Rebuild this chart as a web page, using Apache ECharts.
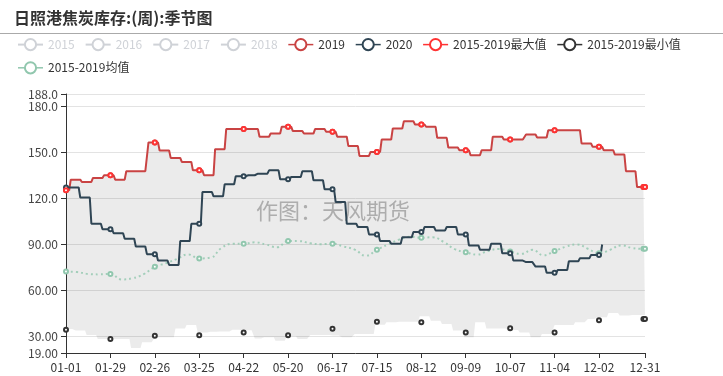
<!DOCTYPE html>
<html>
<head>
<meta charset="utf-8">
<script src="https://cdn.jsdelivr.net/npm/echarts@6/dist/echarts.min.js"></script>
<style>
  html, body { margin: 0; padding: 0; background: #fff; }
  #chart { width: 723px; height: 376px; }
</style>
</head>
<body>
<div id="chart"></div>
<script>
// 横轴：按 2020 年（闰年）逐日
const days = [];
for (let t = Date.UTC(2020, 0, 1); t <= Date.UTC(2020, 11, 31); t += 86400000) {
  const d = new Date(t);
  days.push(String(d.getUTCMonth() + 1).padStart(2, '0') + '-' + String(d.getUTCDate()).padStart(2, '0'));
}

// 周度数据：第 0 项是第一次更新之前的几天，之后每 7 天一个值
const off2019 = 3;
const w2019 = [125.2, 132.1, 130.6, 133.2, 135.0, 132.1, 137.6, 137.6, 156.4, 151.1,
  146.3, 143.7, 138.2, 135.0, 152.0, 165.1, 165.1, 165.1, 160.1, 162.2,
  166.6, 163.8, 162.2, 165.1, 163.3, 160.1, 154.0, 147.6, 150.2, 158.3,
  165.5, 170.3, 168.1, 166.6, 159.4, 153.1, 151.3, 148.1, 151.3, 160.1,
  158.3, 158.3, 161.6, 159.6, 164.4, 164.4, 164.4, 155.7, 153.5, 151.3,
  148.5, 137.6, 127.3];

const off2020 = 2;
const last2020 = 338; // 2020 数据到 12-04
const w2020 = [127.0, 127.0, 120.4, 103.3, 99.7, 97.2, 93.5, 88.5, 83.5, 79.3,
  76.5, 92.0, 103.3, 124.0, 121.2, 129.1, 134.3, 135.0, 136.0, 138.2,
  132.4, 133.9, 137.6, 131.7, 125.8, 117.5, 103.3, 101.2, 96.4, 92.0,
  90.3, 94.6, 98.0, 101.2, 99.0, 101.2, 96.4, 89.2, 86.3, 90.3,
  84.1, 79.3, 78.3, 75.4, 71.3, 73.2, 78.9, 80.9, 83.0, 89.8];

// 2015-2019 最大值与 2019 年重合
const wMax = w2019;

// 灰色区间下沿
const offLow = 6;
const wLow = [34.6, 33.6, 30.7, 28.1, 28.1, 28.1, 22.2, 26.0, 29.2, 29.2,
  35.0, 37.3, 32.4, 32.9, 33.1, 34.2, 33.8, 28.5, 29.2, 27.0,
  30.0, 28.1, 30.8, 30.8, 30.4, 29.2, 31.4, 31.4, 37.5, 39.0,
  39.4, 39.4, 42.9, 40.1, 38.0, 33.6, 29.2, 39.0, 35.0, 35.0,
  34.0, 32.4, 29.2, 31.4, 37.3, 37.3, 39.0, 41.2, 42.3, 45.1,
  43.4, 43.8, 43.8];

// 2015-2019 均值：每 7 天一个点，最后一个是 12-31
const meanVals = [72.1, 71.8, 70.6, 70.3, 70.6, 67.0, 67.8, 70.5, 75.2, 77.6,
  80.4, 83.3, 80.7, 81.2, 87.5, 90.3, 90.3, 91.2, 89.8, 88.0,
  92.0, 92.0, 90.6, 90.0, 90.3, 88.5, 86.5, 82.5, 86.3, 89.8,
  93.0, 94.8, 94.2, 94.5, 91.5, 86.8, 84.8, 83.2, 85.6, 86.8,
  85.2, 83.7, 86.3, 82.8, 85.5, 88.3, 89.8, 87.0, 84.1, 86.3,
  89.2, 87.5, 87.0, 87.0];

// 2015-2019 最小值：只在刻度日期上有点，每 28 天一个，最后一个是 12-31
const minVals = [34.2, 28.1, 30.2, 30.6, 32.4, 30.6, 34.8, 39.4, 39.1, 32.4,
  35.2, 32.4, 40.3, 41.2, 41.2];

function daily(weekly, off, lastDay) {
  return days.map((_, d) => {
    if (lastDay != null && d > lastDay) return null;
    const i = d < off ? 0 : Math.floor((d - off) / 7) + 1;
    return weekly[i];
  });
}
function sparse(vals, step) {
  const out = days.map(() => null);
  vals.forEach((v, i) => { out[Math.min(i * step, days.length - 1)] = v; });
  return out;
}

const d2019 = daily(w2019, off2019);
const d2020 = daily(w2020, off2020, last2020);
const dMax = daily(wMax, off2019);
const dLow = daily(wLow, offLow);
const dBand = dMax.map((v, i) => +(v - dLow[i]).toFixed(1));

const font = '"Noto Sans CJK SC", "Noto Sans", sans-serif';
const dot = { symbol: 'emptyCircle', symbolSize: 4, itemStyle: { borderWidth: 1.5 } };
const chart = echarts.init(document.getElementById('chart'));
const option = {
  animation: false,
  textStyle: { fontFamily: font },
  title: {
    text: '日照港焦炭库存:(周):季节图',
    left: 9,
    top: 5,
    textStyle: { fontSize: 16, fontWeight: 'bold', color: '#333', fontFamily: font }
  },
  legend: {
    left: 12,
    top: 33,
    right: 20,
    itemGap: 10,
    itemWidth: 25,
    itemHeight: 14,
    lineStyle: { width: 1.5 },
    itemStyle: { borderWidth: 1.2 },
    textStyle: { fontSize: 12, color: '#333' },
    data: ['2015', '2016', '2017', '2018', '2019', '2020',
      { name: '2015-2019最大值', lineStyle: { opacity: 1 } },
      '2015-2019最小值',
      { name: '2015-2019均值', lineStyle: { type: 'solid', opacity: 1 } }],
    selected: { '2015': false, '2016': false, '2017': false, '2018': false }
  },
  grid: { left: 66, right: 78, top: 94, bottom: 23 },
  xAxis: {
    type: 'category',
    boundaryGap: false,
    data: days,
    axisLine: { lineStyle: { color: '#333' } },
    axisTick: { lineStyle: { color: '#333' } },
    axisLabel: { interval: 27, showMaxLabel: true, color: '#333', fontSize: 12 }
  },
  yAxis: {
    type: 'value',
    min: 19,
    max: 188,
    axisLine: { show: true, lineStyle: { color: '#333' } },
    axisTick: { show: true, lineStyle: { color: '#333' } },
    axisLabel: { color: '#444', fontSize: 12, formatter: v => Number(v).toPrecision(4) },
    splitLine: { lineStyle: { color: '#e3e3e3' } }
  },
  graphic: [
    { type: 'line', shape: { x1: 0, y1: 33.5, x2: 723, y2: 33.5 }, style: { stroke: '#aaa', lineWidth: 1 } },
    { type: 'text', x: 256, y: 211, z: 1,
      style: { text: '作图：天风期货', fontSize: 22, fontFamily: font, fill: '#bcbcbc', verticalAlign: 'middle' } }
  ],
  series: [
    { name: '2015', type: 'line', data: [], color: '#c23531' },
    { name: '2016', type: 'line', data: [], color: '#61a0a8' },
    { name: '2017', type: 'line', data: [], color: '#d48265' },
    { name: '2018', type: 'line', data: [], color: '#749f83' },
    {
      name: 'low', type: 'line', stack: 'band', data: dLow, symbol: 'none', silent: true,
      lineStyle: { opacity: 0 }
    },
    {
      name: 'band', type: 'line', stack: 'band', data: dBand, symbol: 'none', silent: true,
      lineStyle: { opacity: 0 }, areaStyle: { color: 'rgba(0,0,0,0.11)' }
    },
    Object.assign({
      name: '2015-2019均值', type: 'line', data: sparse(meanVals, 7), connectNulls: true, smooth: true,
      color: '#91c7ae', lineStyle: { type: [2, 3], width: 2, opacity: 0.8 }
    }, dot),
    Object.assign({
      name: '2019', type: 'line', data: d2019, color: '#c94343', lineStyle: { width: 2 }
    }, dot),
    Object.assign({
      name: '2020', type: 'line', data: d2020, color: '#2f4554', lineStyle: { width: 2 }
    }, dot),
    Object.assign({
      name: '2015-2019最大值', type: 'line', data: dMax, color: '#ff3333', lineStyle: { opacity: 0 }
    }, dot),
    Object.assign({
      name: '2015-2019最小值', type: 'line', data: sparse(minVals, 28), color: '#333'
    }, dot)
  ]
};
chart.setOption(option);
</script>
</body>
</html>
